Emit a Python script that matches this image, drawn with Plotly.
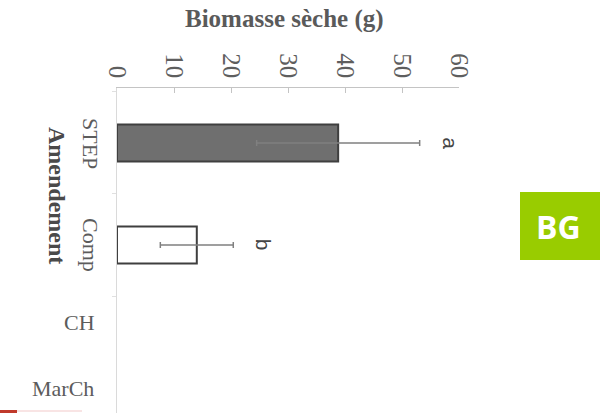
import plotly.graph_objects as go

categories = ["STEP", "Comp", "CH", "MarCh"]
biomass = [38.8, 14.0, None, None]
errors = [14.3, 6.4, None, None]
letters = ["a", "b", None, None]
tick_vals = [0, 10, 20, 30, 40, 50, 60]

W, H = 606, 413
L, R, T, B = 117, 147, 88, 0
PW, PH = W - L - R, H - T - B

def px(x):
    return (x - L) / PW

def py(y):
    return (H - B - y) / PH

TXT = "#5c5c5c"
SERIF = "Liberation Serif"

fig = go.Figure()
fig.add_trace(go.Bar(
    y=categories, x=biomass, orientation="h", width=0.363,
    marker=dict(color=["#6f6f6f", "#ffffff", "#ffffff", "#ffffff"],
                line=dict(color="#3f3f3f", width=2)),
    error_x=dict(type="data", array=errors, color="#808080", thickness=1.5, width=3),
    showlegend=False,
))

C = dict(xanchor="center", yanchor="middle", showarrow=False)
ann = []
# significance letters
for c, v, e, l in zip(categories, biomass, errors, letters):
    if l:
        ann.append(dict(x=v + e, y=c, xref="x", yref="y", text=l, xshift=30, textangle=90,
                        font=dict(family="Liberation Sans", size=21, color="#444444"), **C))
# category labels (rotated for bars with data, horizontal for the others)
ann.append(dict(x=px(90), y="STEP", xref="paper", yref="y", text="STEP", textangle=90,
                font=dict(family=SERIF, size=22, color=TXT), **C))
ann.append(dict(x=px(90), y="Comp", xref="paper", yref="y", text="Comp", textangle=90,
                font=dict(family=SERIF, size=22, color=TXT), **C))
ann.append(dict(x=px(79), y=py(322), xref="paper", yref="paper", text="CH",
                font=dict(family=SERIF, size=22, color=TXT), **C))
ann.append(dict(x=px(63), y=py(388), xref="paper", yref="paper", text="MarCh",
                font=dict(family=SERIF, size=22, color=TXT), **C))
ann.append(dict(x=px(57), y=py(195), xref="paper", yref="paper", text="<b>Amendement</b>",
                textangle=90, font=dict(family=SERIF, size=24, color="#4a4a4a"), **C))
ann.append(dict(x=px(284), y=py(19), xref="paper", yref="paper", text="<b>Biomasse sèche (g)</b>",
                font=dict(family=SERIF, size=25, color="#5a5a5a"), **C))
ann.append(dict(x=px(558), y=py(226), xref="paper", yref="paper", text="<b>BG</b>",
                font=dict(family="Open Sans", size=32, color="#ffffff"), **C))

shapes = [
    dict(type="rect", xref="paper", yref="paper", x0=px(520), x1=px(600), y0=py(260), y1=py(192),
         fillcolor="#99cc00", line=dict(width=0), layer="below"),
    dict(type="rect", xref="paper", yref="paper", x0=px(0), x1=px(17), y0=py(413), y1=py(410),
         fillcolor="#c0392b", line=dict(width=0)),
    dict(type="line", xref="paper", yref="paper", x0=px(17), x1=px(82), y0=py(411), y1=py(411),
         line=dict(color="#f2c9c9", width=1)),
]

fig.update_layout(
    width=W, height=H, margin=dict(l=L, r=R, t=T, b=B),
    paper_bgcolor="white", plot_bgcolor="white",
    xaxis=dict(side="top", range=[0, 60], tickvals=tick_vals, tickangle=90,
               showgrid=False, zeroline=False, showline=True, linecolor="#c4c4c4", linewidth=1,
               ticks="inside", ticklen=5, tickcolor="#c4c4c4",
               tickfont=dict(family=SERIF, size=25, color="#5e5e5e")),
    yaxis=dict(type="category", categoryorder="array", categoryarray=categories,
               range=[2.647, -0.539], showticklabels=False, showgrid=False, zeroline=False,
               showline=True, linecolor="#dadada", linewidth=1,
               ticks="outside", tickson="boundaries", ticklen=4, tickcolor="#e0e0e0"),
    annotations=ann, shapes=shapes,
)

fig.write_html("out.html")
